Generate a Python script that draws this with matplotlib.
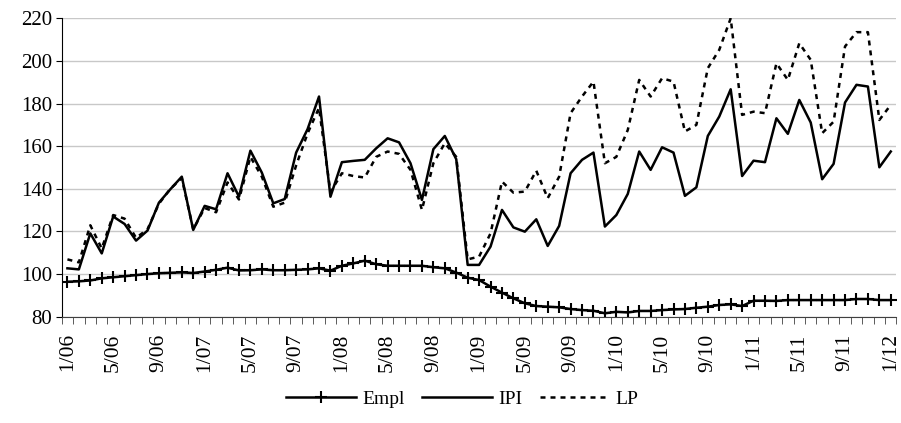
import numpy as np
import matplotlib
matplotlib.use("Agg")
import matplotlib.pyplot as plt

plt.rcParams["font.family"] = ["Liberation Serif", "DejaVu Serif"]

# monthly series, 1/06 .. 1/12
empl = [96.4, 96.6, 97.0, 98.0, 98.5, 99.0, 99.5, 100.0, 100.4, 100.6,
        100.8, 100.5, 101.2, 102.0, 103.0, 101.7, 101.8, 102.2, 101.8, 101.8,
        102.0, 102.2, 102.7, 101.6, 103.9, 105.0, 106.3, 104.6, 103.9, 103.9,
        103.9, 103.9, 103.2, 102.7, 100.7, 98.3, 97.2, 94.1, 91.3, 88.6,
        86.3, 85.0, 84.7, 84.4, 83.6, 83.1, 82.8, 81.6, 82.3, 82.0,
        82.7, 82.7, 83.1, 83.4, 83.6, 84.2, 84.7, 85.5, 85.8, 85.0,
        87.5, 87.5, 87.4, 87.8, 87.8, 87.8, 87.8, 87.8, 87.8, 88.3,
        88.3, 87.8, 87.8]
ipi = [102.7, 102.2, 119.1, 109.7, 127.0, 123.5, 115.7, 120.4, 133.5, 139.8,
       145.7, 120.7, 132.0, 130.4, 147.3, 136.3, 157.9, 147.6, 133.2, 135.2,
       157.0, 168.0, 183.3, 136.3, 152.5, 153.1, 153.6, 159.0, 163.7, 161.8,
       152.0, 134.8, 158.6, 164.8, 153.9, 104.3, 104.3, 112.9, 130.1, 121.9,
       119.9, 125.7, 113.2, 122.6, 147.3, 153.6, 157.0, 122.3, 127.7, 137.6,
       157.5, 148.9, 159.5, 157.0, 136.7, 140.7, 164.8, 173.9, 186.7, 146.0,
       153.2, 152.5, 173.1, 165.8, 181.7, 171.1, 144.5, 151.7, 180.5, 188.8,
       188.0, 150.1, 157.5]
lp = [106.9, 105.5, 122.9, 112.0, 127.7, 126.0, 117.0, 121.0, 133.0, 140.0,
      145.0, 121.0, 131.0, 129.0, 143.0, 135.0, 155.0, 145.7, 131.6, 133.5,
      151.0, 166.0, 178.0, 138.5, 147.3, 146.0, 145.3, 155.0, 157.5, 156.4,
      148.9, 130.1, 152.0, 161.4, 155.0, 106.9, 108.2, 119.1, 143.4, 138.2,
      138.7, 148.5, 135.6, 145.7, 175.5, 183.3, 190.3, 152.0, 155.0, 167.6,
      191.1, 183.3, 191.9, 190.3, 166.9, 170.0, 196.6, 205.2, 220.0, 174.7,
      176.2, 175.5, 198.9, 191.1, 208.3, 200.5, 166.1, 171.5, 206.8, 213.5,
      213.5, 172.3, 179.4]

years = ["06", "07", "08", "09", "10", "11", "12"]
labels = []
for y in years:
    for m in range(1, 13):
        labels.append(f"{m}/{y}")
labels = labels[:len(ipi)]

x = np.arange(len(ipi))

fig = plt.figure(figsize=(9.01, 4.23), dpi=100)
ax = fig.add_axes([0.0685, 0.2513, 0.9265, 0.7054])

ax.plot(x, empl, color="black", lw=1.8, marker="+", ms=9, mew=1.5, label="Empl")
ax.plot(x, ipi, color="black", lw=1.8, label="IPI")
ax.plot(x, lp, color="black", lw=1.8, ls=(0, (2, 2)), label="LP")

ax.set_xlim(-0.5, len(ipi) - 0.5)
ax.set_ylim(80, 220)
ax.set_yticks(np.arange(80, 221, 20))
ax.yaxis.grid(True, color="#c8c8c8", lw=1)
ax.set_axisbelow(True)

ax.set_xticks(x[::4])
ax.set_xticklabels(labels[::4], rotation=90)
ax.set_xticks(np.arange(-0.5, len(ipi)), minor=True)
ax.tick_params(axis="x", which="major", length=0, labelsize=15.5, pad=12)
ax.tick_params(axis="x", which="minor", length=5, color="#404040")
ax.tick_params(axis="y", length=4, labelsize=15, pad=3)

for s in ["top", "right"]:
    ax.spines[s].set_visible(False)
ax.spines["bottom"].set_color("#404040")
ax.spines["left"].set_color("black")

ax.legend(loc="center", bbox_to_anchor=(0.48, -0.275), ncol=3, frameon=False,
          fontsize=14, handlelength=3.6, handletextpad=0.3, columnspacing=0.9)

fig.savefig("out.png", dpi=100)
